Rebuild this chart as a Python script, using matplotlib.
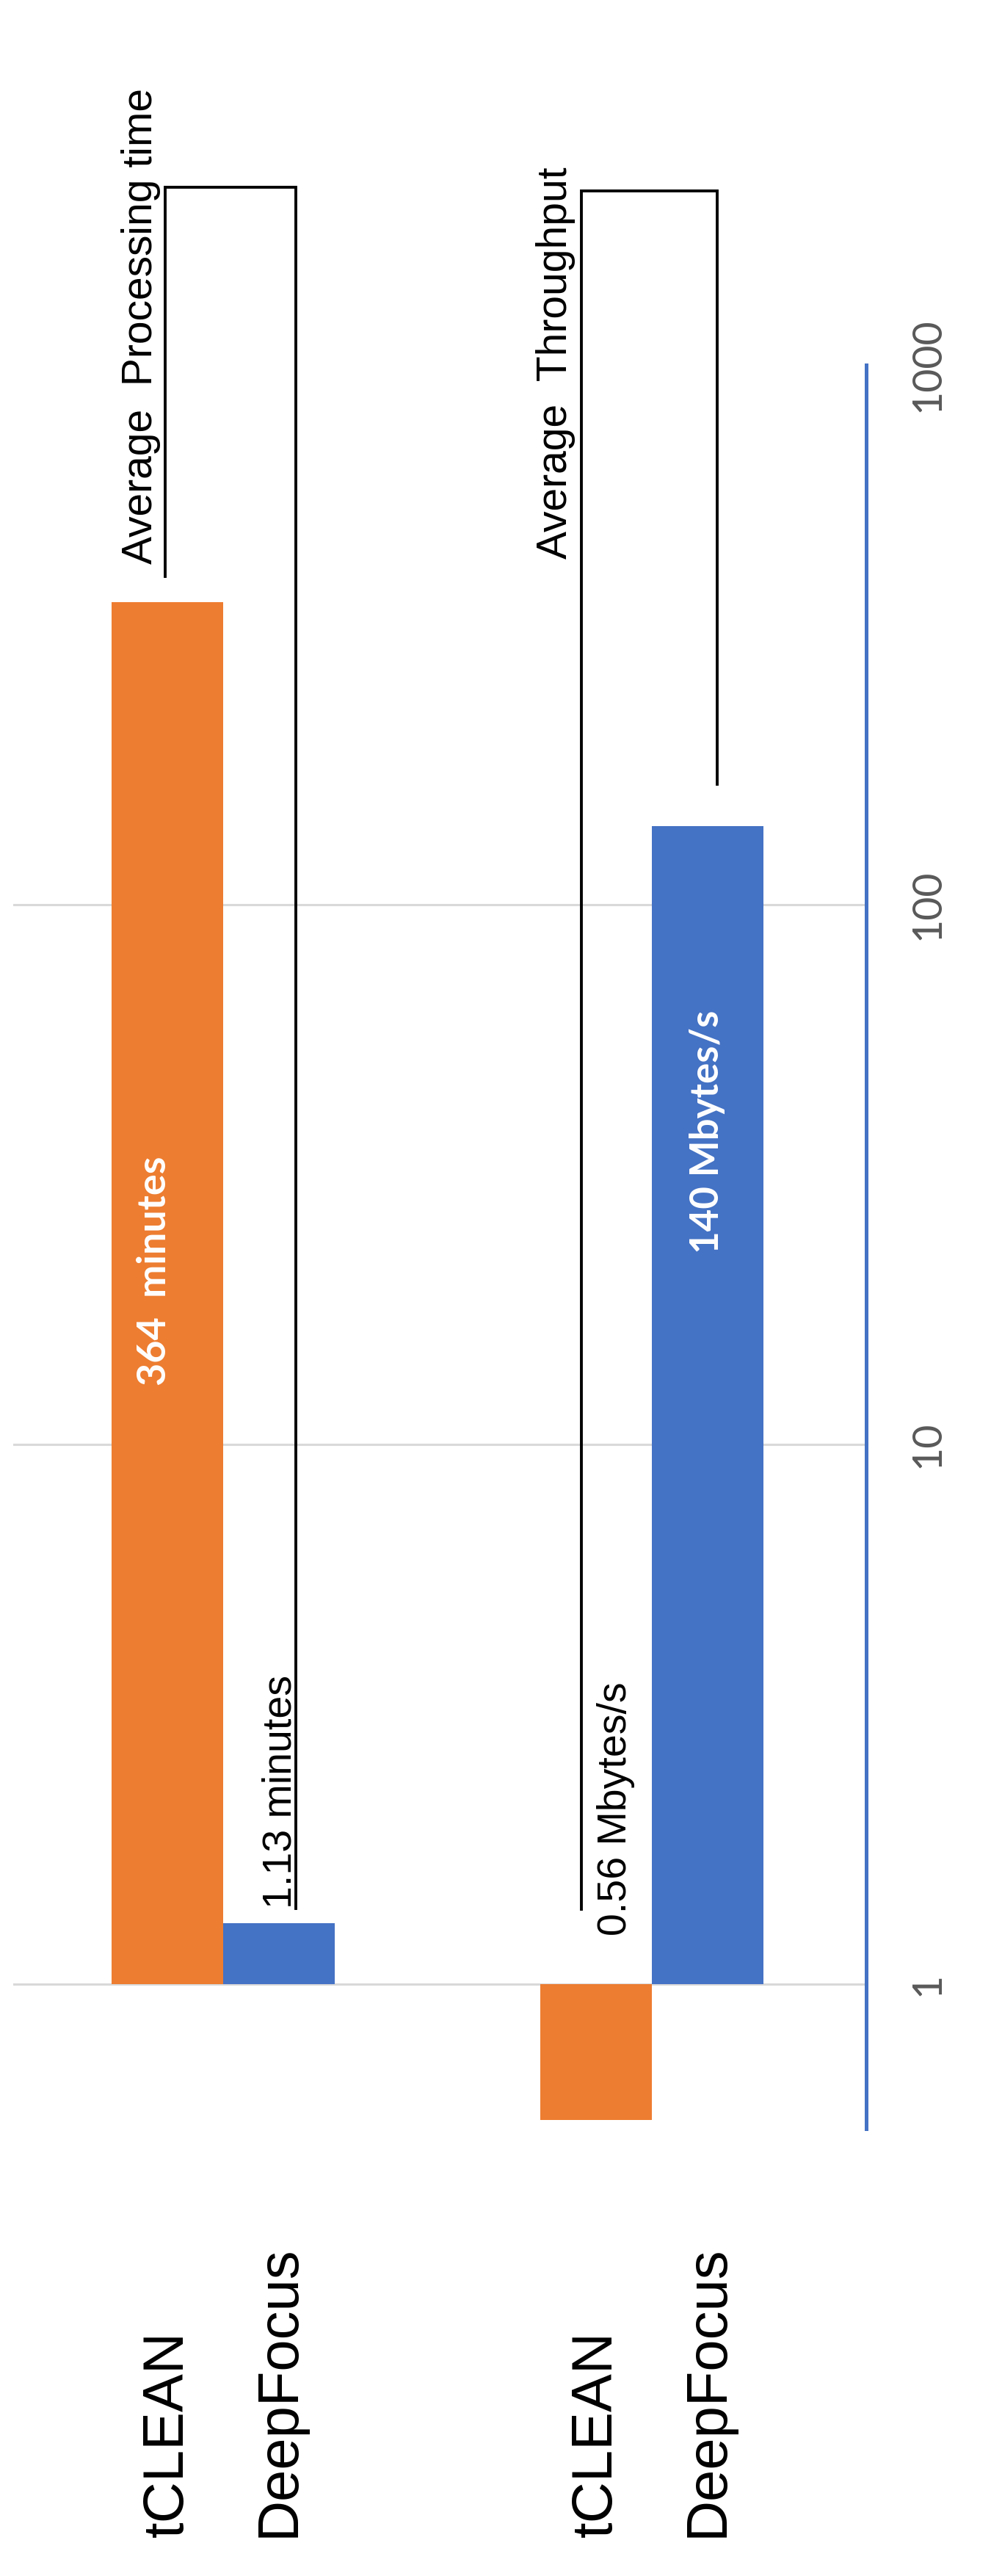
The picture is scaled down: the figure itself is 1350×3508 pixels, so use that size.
import numpy as np
import matplotlib
matplotlib.use('Agg')
import matplotlib.pyplot as plt
from matplotlib.ticker import NullLocator

groups = ['Average  Processing time', 'Average  Throughput']
methods = ['tCLEAN', 'DeepFocus']
tclean_vals = [364, 0.56]
deepfocus_vals = [1.3, 140]      # the bar labelled "1.13 minutes" is drawn at ~1.3
value_texts = ['364  minutes', '140 Mbytes/s']
side_texts = ['1.13 minutes', '0.56 Mbytes/s']
tick_values = [1, 10, 100, 1000]
tick_labels = ['1', '10', '100', '1000']

ORANGE = '#ED7D31'
BLUE = '#4472C4'
ARIAL = 'Liberation Sans'
CALIBRI = 'Lato'

fig = plt.figure(figsize=(13.5, 35.08), dpi=100)
ax = fig.add_axes([18 / 1350, 609 / 3508, 1162 / 1350, 2402 / 3508])
ax.set_yscale('log')
ax.set_ylim(0.54, 1000)
ax.set_xlim(-0.49, 1.50)

x = np.arange(len(groups))
w = 0.26
base = 1.0

for t in tick_values[:-1]:
    ax.axhline(t, color='#D9D9D9', lw=2.2, zorder=0)

ax.bar(x - w / 2, np.array(tclean_vals) - base, w, bottom=base,
       color=ORANGE, zorder=2)
ax.bar(x + w / 2, np.array(deepfocus_vals) - base, w, bottom=base,
       color=BLUE, zorder=2)

# axis: only the right spine, blue
for s in ['top', 'left', 'bottom']:
    ax.spines[s].set_visible(False)
ax.spines['right'].set_color(BLUE)
ax.spines['right'].set_linewidth(3.6)
ax.set_xticks([])
ax.set_yticks(tick_values)
ax.set_yticklabels(tick_labels)
ax.yaxis.set_minor_locator(NullLocator())
ax.yaxis.tick_right()
ax.tick_params(axis='y', length=0, pad=42, labelsize=40,
               labelcolor='#595959', labelrotation=90)
for lbl in ax.get_yticklabels():
    lbl.set_va('center')
    lbl.set_fontfamily(CALIBRI)

# category labels under the plot
trans = ax.get_xaxis_transform()
for i in range(len(groups)):
    for xpos, name in zip([x[i] - w / 2, x[i] + w / 2], methods):
        ax.text(xpos, -0.2315, name, transform=trans, rotation=90,
                ha='center', va='bottom', fontsize=56, family=ARIAL)

# value labels inside the big bars
ax.text(x[0] - w / 2 - 0.03, 21, value_texts[0], rotation=90, ha='center',
        va='center', color='white', fontsize=39, fontweight='bold',
        family=CALIBRI, zorder=3)
ax.text(x[1] + w / 2, 38, value_texts[1], rotation=90, ha='center',
        va='center', color='white', fontsize=38, fontweight='bold',
        family=CALIBRI, zorder=3)

# bracket callouts
brackets = [
    ([-0.135, -0.135, 0.170, 0.170], [406, 2133, 2133, 1.38]),
    ([0.836, 0.836, 1.152, 1.152], [1.376, 2099, 2099, 167]),
]
for bx, by in brackets:
    ax.plot(bx, by, color='black', lw=2.8, clip_on=False, zorder=4,
            solid_joinstyle='miter')

ax.text(-0.166, 428, groups[0], rotation=90, rotation_mode='anchor',
        ha='left', va='baseline', fontsize=41, family=ARIAL)
ax.text(0.801, 438, groups[1], rotation=90, rotation_mode='anchor',
        ha='left', va='baseline', fontsize=41, family=ARIAL)
ax.text(0.159, 1.38, side_texts[0], rotation=90, rotation_mode='anchor',
        ha='left', va='baseline', fontsize=40, family=ARIAL)
ax.text(0.940, 1.23, side_texts[1], rotation=90, rotation_mode='anchor',
        ha='left', va='baseline', fontsize=40, family=ARIAL)

fig.savefig('out.png', dpi=100)
